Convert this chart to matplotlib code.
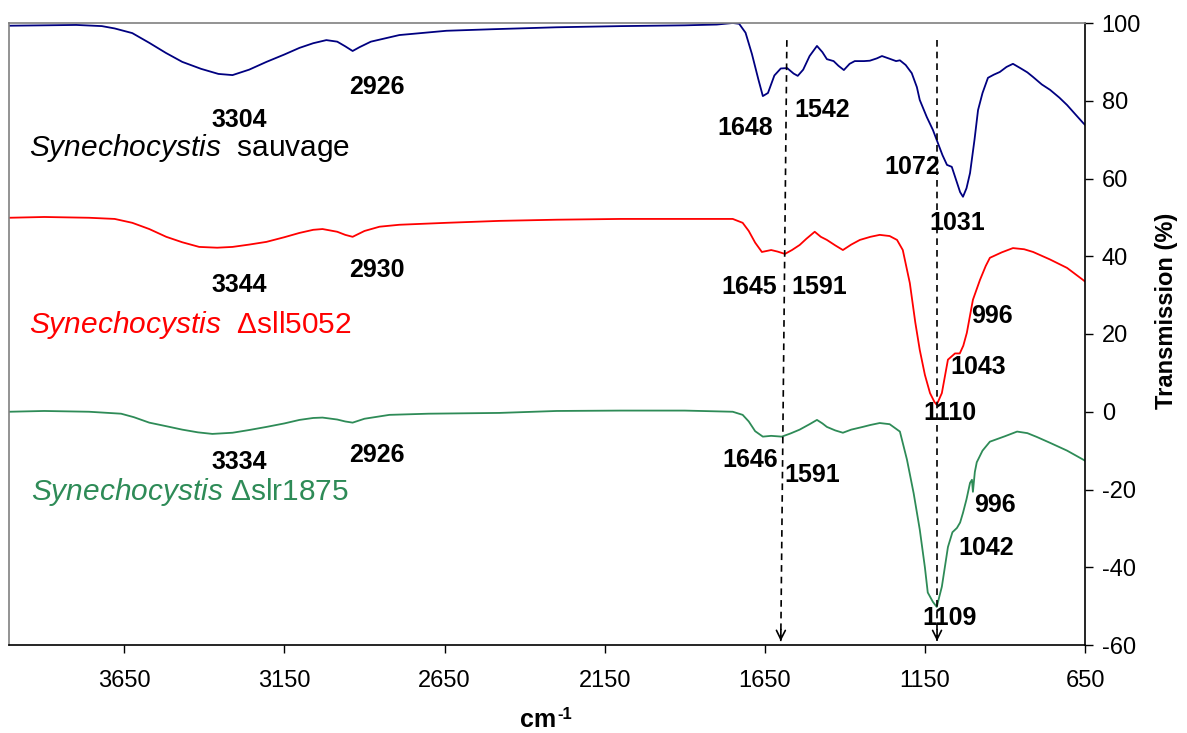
import numpy as np
import matplotlib.pyplot as plt

plt.rcParams['font.family'] = ['Liberation Sans', 'DejaVu Sans']
plt.rcParams['mathtext.fontset'] = 'custom'
plt.rcParams['mathtext.rm'] = 'Liberation Sans'
plt.rcParams['mathtext.it'] = 'Liberation Sans:italic'
plt.rcParams['mathtext.bf'] = 'Liberation Sans:bold'
plt.rcParams['axes.unicode_minus'] = False

# FTIR spectra, wavenumber (cm-1) vs transmission (%)
wt_wn = [4010, 3900, 3800, 3720, 3680, 3625, 3572, 3520, 3469, 3410, 3356, 3312,
         3260, 3206, 3150, 3103, 3060, 3019, 2985, 2960, 2937, 2915, 2880, 2791,
         2644, 2500, 2300, 2100, 1900, 1800, 1750, 1730, 1710, 1690, 1670, 1656,
         1640, 1620, 1600, 1580, 1560, 1547, 1530, 1510, 1487, 1470, 1456, 1435,
         1420, 1403, 1385, 1369, 1340, 1322, 1300, 1284, 1260, 1240, 1228, 1210,
         1191, 1175, 1166, 1144, 1125, 1113, 1095, 1081, 1066, 1050, 1040, 1031,
         1020, 1009, 995, 984, 970, 953, 935, 916, 895, 875, 850, 830, 812, 785,
         759, 730, 706, 680, 656, 650]
wt_t = [99.3, 99.4, 99.5, 99.2, 98.6, 97.4, 94.9, 92.3, 90.0, 88.2, 86.9, 86.6,
        88.0, 90.0, 91.9, 93.6, 94.8, 95.6, 95.2, 94.0, 92.8, 93.8, 95.2, 96.9,
        98.0, 98.4, 98.9, 99.2, 99.4, 99.6, 100.0, 99.8, 97.5, 92.0, 85.5, 81.2,
        82.0, 86.5, 88.3, 88.4, 87.0, 86.4, 88.0, 91.5, 94.1, 92.5, 90.7, 90.2,
        89.0, 87.9, 89.5, 90.2, 90.2, 90.3, 90.9, 91.5, 90.8, 90.2, 90.4, 89.2,
        87.1, 83.5, 80.2, 75.8, 72.5, 69.9, 66.0, 63.5, 63.0, 59.0, 56.5, 55.3,
        57.5, 61.4, 70.0, 77.6, 82.0, 85.9, 86.7, 87.4, 88.7, 89.5, 88.3, 87.3,
        86.1, 84.2, 82.8, 80.8, 78.9, 76.5, 74.3, 73.8]

sll_wn = [4010, 3900, 3760, 3680, 3625, 3572, 3519, 3469, 3416, 3360, 3312, 3260,
          3206, 3150, 3103, 3060, 3031, 2985, 2960, 2937, 2900, 2853, 2791, 2644,
          2478, 2300, 2100, 1900, 1750, 1719, 1700, 1680, 1659, 1630, 1610, 1587,
          1565, 1541, 1520, 1494, 1475, 1456, 1430, 1406, 1380, 1353, 1320, 1291,
          1260, 1237, 1219, 1197, 1180, 1166, 1150, 1134, 1120, 1113, 1097, 1078,
          1056, 1041, 1030, 1019, 1000, 978, 960, 947, 910, 875, 840, 812, 760,
          706, 656, 650]
sll_t = [49.9, 50.1, 49.9, 49.6, 48.6, 47.0, 45.0, 43.6, 42.4, 42.2, 42.4, 43.0,
         43.7, 44.9, 46.0, 46.8, 47.0, 46.3, 45.5, 45.0, 46.5, 47.6, 48.1, 48.6,
         49.1, 49.4, 49.6, 49.6, 49.6, 48.6, 46.5, 43.5, 41.1, 41.6, 41.2, 40.6,
         41.6, 42.9, 44.5, 46.3, 45.0, 44.2, 42.8, 41.6, 43.0, 44.2, 45.0, 45.5,
         45.2, 44.2, 41.6, 33.1, 23.0, 15.9, 9.5, 4.8, 2.5, 1.8, 4.8, 13.4, 15.0,
         15.0, 17.0, 20.3, 28.8, 33.9, 37.5, 39.6, 41.0, 42.1, 41.8, 41.1, 39.2,
         37.0, 33.9, 33.5]

slr_wn = [4010, 3900, 3760, 3660, 3620, 3572, 3520, 3469, 3420, 3375, 3312, 3260,
          3206, 3150, 3103, 3060, 3031, 2985, 2960, 2937, 2900, 2822, 2700, 2478,
          2300, 2100, 1900, 1750, 1719, 1700, 1680, 1656, 1630, 1597, 1570, 1541,
          1510, 1487, 1470, 1456, 1430, 1406, 1380, 1344, 1320, 1291, 1260, 1228,
          1206, 1185, 1166, 1150, 1141, 1125, 1113, 1097, 1078, 1064, 1050, 1040,
          1031, 1020, 1009, 1003, 1000, 994, 988, 970, 947, 900, 862, 830, 800,
          759, 706, 656, 650]
slr_t = [0.0, 0.2, 0.0, -0.5, -1.4, -2.8, -3.7, -4.6, -5.3, -5.7, -5.4, -4.7,
         -3.9, -3.0, -2.1, -1.6, -1.5, -2.0, -2.5, -2.8, -1.8, -0.8, -0.5, -0.3,
         0.2, 0.3, 0.3, 0.0, -0.8, -2.5, -5.0, -6.4, -6.2, -6.4, -5.6, -4.6, -3.2,
         -2.1, -3.0, -3.9, -4.8, -5.4, -4.6, -3.9, -3.4, -2.9, -3.2, -5.1, -12.3,
         -21.0, -30.3, -40.0, -46.5, -48.9, -50.2, -45.0, -34.8, -31.0, -29.9,
         -28.5, -26.0, -22.5, -18.3, -17.5, -20.6, -15.5, -13.0, -10.0, -7.7,
         -6.3, -5.1, -5.5, -6.5, -8.0, -10.0, -12.3, -12.6]

# peak labels: (text, x, y)
wt_peaks = [('3304', 3291, 75.0), ('2926', 2862, 83.5), ('1648', 1712, 73.0),
            ('1542', 1472, 77.6), ('1072', 1191, 63.0), ('1031', 1050, 48.6)]
sll_peaks = [('3344', 3291, 32.6), ('2930', 2862, 36.5), ('1645', 1700, 32.1),
             ('1591', 1481, 32.1), ('996', 941, 24.7), ('1043', 984, 11.6),
             ('1110', 1072, -0.3)]
slr_peaks = [('3334', 3291, -12.9), ('2926', 2862, -11.0), ('1646', 1694, -12.3),
             ('1591', 1503, -16.2), ('996', 931, -24.0), ('1042', 959, -35.0),
             ('1109', 1072, -53.0)]

# dashed guide arrows: (x_top, x_bottom)
guides = [(1581, 1600), (1112, 1112)]
guide_top, guide_bottom = 95.6, -59.0

fig = plt.figure(figsize=(11.87, 7.33), dpi=100)
ax = fig.add_axes([9 / 1187, 88 / 733, 1076 / 1187, 622 / 733])

ax.plot(wt_wn, wt_t, color='#000080', lw=1.3)
ax.plot(sll_wn, sll_t, color='#ff0000', lw=1.3)
ax.plot(slr_wn, slr_t, color='#2e8b57', lw=1.3)

for peaks in (wt_peaks, sll_peaks, slr_peaks):
    for txt, x, y in peaks:
        ax.text(x, y, txt, ha='center', va='center', fontsize=18,
                fontweight='bold', color='black')

ax.text(3947, 67.9, r'$\mathit{Synechocystis}$  sauvage', fontsize=21.5,
        color='black', va='center', ha='left')
ax.text(3947, 22.4, r'$\mathit{Synechocystis}$  Δsll5052', fontsize=21.5,
        color='#ff0000', va='center', ha='left')
ax.text(3940, -20.6, r'$\mathit{Synechocystis}$ Δslr1875', fontsize=21.5,
        color='#2e8b57', va='center', ha='left')

for x_top, x_bot in guides:
    ax.plot([x_top, x_bot], [guide_top, guide_bottom], color='black', lw=1.2,
            ls=(0, (4, 3)))
    # small solid stub carrying the open arrowhead
    x_stub = x_bot + (x_top - x_bot) * 3 / (guide_top - guide_bottom)
    ax.annotate('', xy=(x_bot, guide_bottom), xytext=(x_stub, guide_bottom + 3),
                arrowprops=dict(arrowstyle='->', color='black', lw=1.2,
                                mutation_scale=16, shrinkA=0, shrinkB=0))

ax.set_xlim(4010, 650)
ax.set_ylim(-60, 100)
ax.set_xticks([3650, 3150, 2650, 2150, 1650, 1150, 650])
ax.set_yticks(np.arange(-60, 101, 20))

ax.yaxis.tick_right()
ax.tick_params(axis='x', direction='out', length=6, width=1, pad=12, labelsize=17)
ax.tick_params(axis='y', direction='out', length=6, width=1, pad=6, labelsize=17)

ax.spines['top'].set_color('#808080')
ax.spines['left'].set_color('#808080')
for s in ax.spines.values():
    s.set_linewidth(1.2)

fig.text(538 / 1187, 6 / 733, 'cm', fontsize=18, fontweight='bold',
         ha='center', va='baseline')
fig.text(557 / 1187, 1 - 707 / 733, '-1', fontsize=12, fontweight='bold',
         ha='left', va='top')
fig.text(1166 / 1187, 1 - 311 / 733, 'Transmission (%)', fontsize=17,
         fontweight='bold', rotation=90, ha='center', va='center')

fig.savefig('out.png', dpi=100)
